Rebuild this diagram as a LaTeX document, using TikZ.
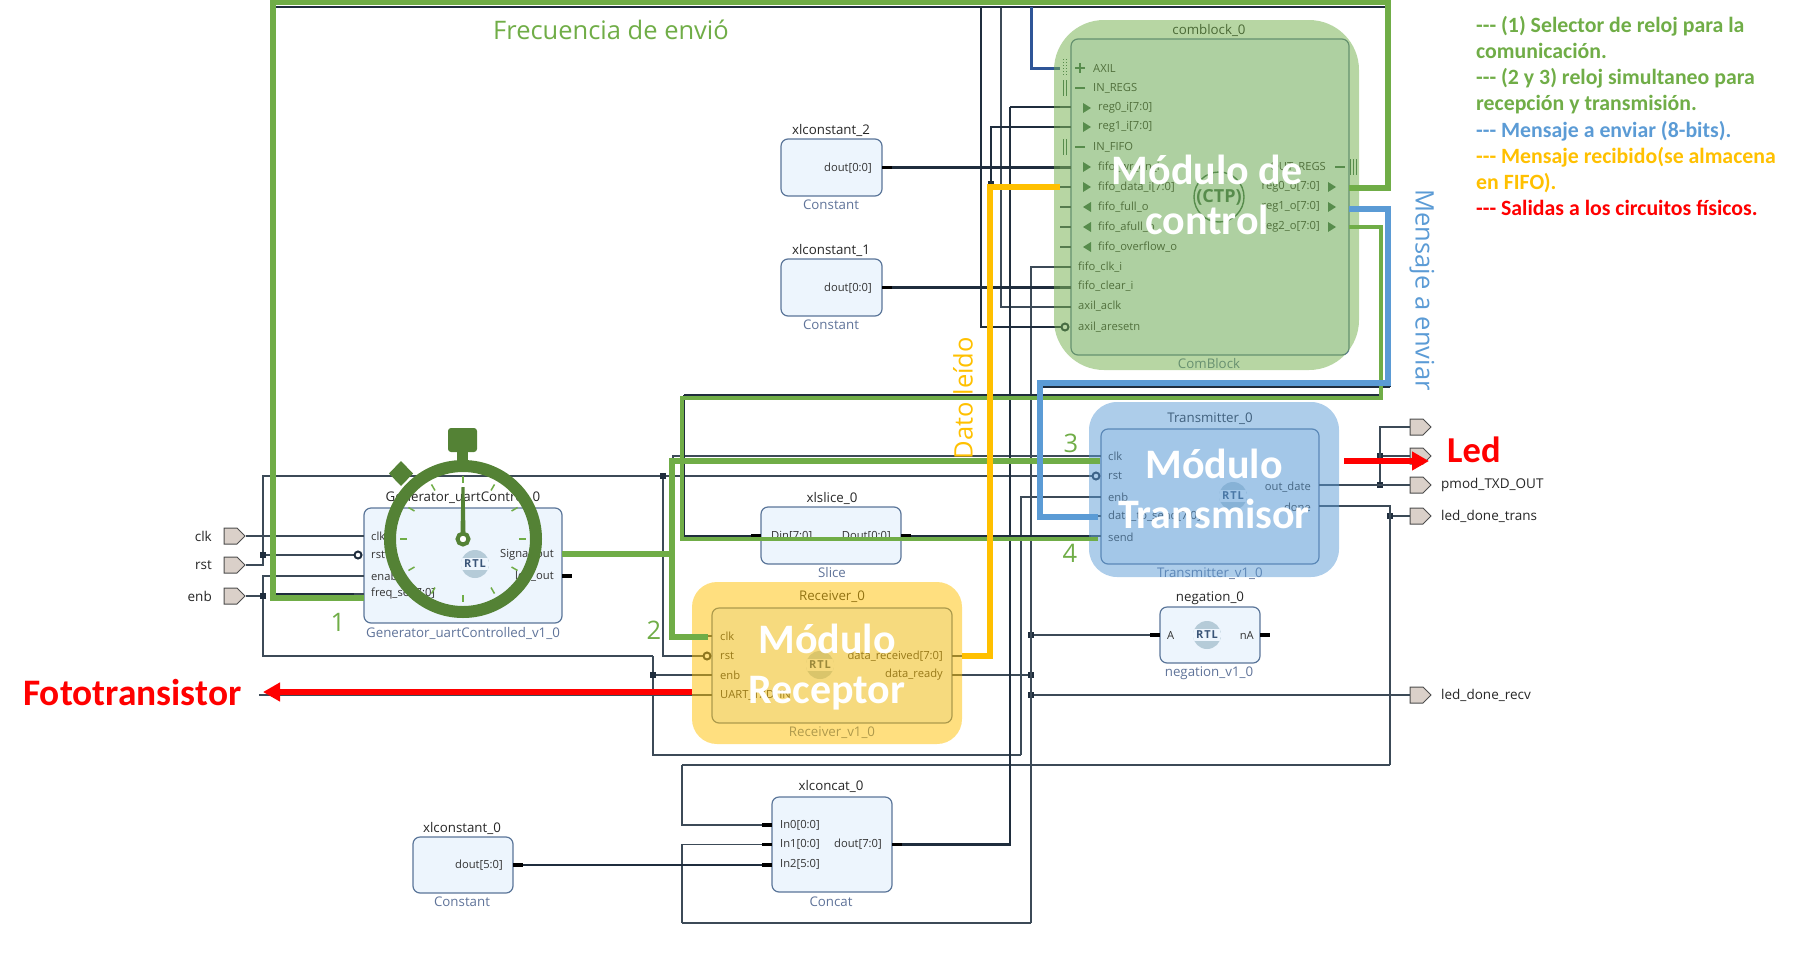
\documentclass[tikz,border=0pt]{standalone}
\usepackage{fontspec}
\usepackage{xcolor}
\setmainfont{Open Sans}
\newfontfamily\calfont{Carlito}
\usetikzlibrary{arrows.meta,shapes.symbols,calc}
\definecolor{ipfill}{HTML}{EDF5FD}
\definecolor{ipline}{HTML}{5A7599}
\definecolor{ipsub}{HTML}{5F7399}
\definecolor{wirec}{HTML}{3C4A57}
\definecolor{busc}{HTML}{1F2D3D}
\definecolor{portf}{HTML}{DAD0C9}
\definecolor{ogreen}{HTML}{70AD47}
\definecolor{oblue}{HTML}{5B9BD5}
\definecolor{oyellow}{HTML}{FFC000}
\definecolor{watchc}{HTML}{548235}
\definecolor{navyc}{HTML}{2F5597}
\definecolor{rtlc}{HTML}{B5CBD8}
\definecolor{rtlt}{HTML}{3A5578}
\definecolor{comsym}{HTML}{3F6B52}
\tikzset{
	block/.style={draw=ipline,line width=1.2pt,fill=ipfill,rounded corners=7pt,inner sep=0pt},
	hilite/.style={fill opacity=0.5,inner sep=0pt},
	blocktitle/.style={font=\fontsize{13.3}{15}\selectfont,text=black!85,inner sep=0pt,yshift=-1pt},
	blocksub/.style={font=\fontsize{13.3}{15}\selectfont,text=ipsub,inner sep=0pt},
	lport/.style={font=\fontsize{11.2}{13}\selectfont,text=black!80,anchor=west,inner sep=0pt},
	rport/.style={font=\fontsize{11.2}{13}\selectfont,text=black!80,anchor=east,inner sep=0pt},
	extlabel/.style={font=\fontsize{13.5}{15}\selectfont,text=black!85,inner sep=0pt},
	port/.style={signal,signal to=east,draw=black!70,line width=1pt,fill=portf,minimum width=21pt,minimum height=16pt,inner sep=0pt},
	jdot/.style={fill=busc,minimum size=6pt,inner sep=0pt},
	bubble/.style={circle,draw=busc,line width=2pt,fill=white,minimum size=7pt,inner sep=0pt},
	wire/.style={draw=wirec,line width=1.3pt},
	bus/.style={draw=busc,line width=2.2pt},
	pinstub/.style={draw=black,line width=3.5pt},
	thinstub/.style={draw=wirec,line width=2.2pt},
	gline/.style={draw=ogreen,line width=5.5pt},
	rtl/.style={circle,minimum size=28pt,inner sep=0pt,fill=rtlc,text=rtlt,font=\fontsize{11}{13}\bfseries\selectfont,
		path picture={\fill[ipfill] ([yshift=-6pt]path picture bounding box.west) rectangle ([yshift=6pt]path picture bounding box.east);}},
	bigtext/.style={font=\calfont\bfseries\fontsize{42}{50.5}\selectfont,text=white,align=center,inner sep=0pt},
	notes/.style={font=\fontsize{25.5}{28}\selectfont,inner sep=0pt},
}
\begin{document}
\begin{tikzpicture}[x=1pt,y=-1pt]
		\useasboundingbox (0,0) rectangle (1803,977);
		% IP blocks
		\node[block,minimum width=198pt,minimum height=115pt] (gen) at (463,565.5) {};
		\node[block,minimum width=140pt,minimum height=57pt] (slice) at (831,535.5) {};
		\node[block,minimum width=240pt,minimum height=115pt] (recv) at (832,665.5) {};
		\node[block,minimum width=218pt,minimum height=135pt] (trans) at (1210,496.5) {};
		\node[block,minimum width=278pt,minimum height=316pt] (comb) at (1210,197) {};
		\node[block,minimum width=100pt,minimum height=56pt] (neg) at (1210,635) {};
		\node[block,minimum width=120pt,minimum height=95pt] (concat) at (832,844.5) {};
		\node[block,minimum width=101pt,minimum height=57pt] (kdos) at (831.5,167.5) {};
		\node[block,minimum width=101pt,minimum height=57pt] (kuno) at (831.5,287.5) {};
		\node[block,minimum width=100pt,minimum height=56pt] (kcero) at (463,865) {};
		%
		\node[blocktitle] (tgen) at (463,496) {Generator\_uartControl\_0};
		\node[blocksub] (sgen) at (463,633) {Generator\_uartControlled\_v1\_0};
		\node[blocktitle] (tslice) at (832,497) {xlslice\_0};
		\node[blocksub] (sslice) at (832,573) {Slice};
		\node[blocktitle] (trecv) at (832,596) {Receiver\_0};
		\node[blocksub] (srecv) at (832,733) {Receiver\_v1\_0};
		\node[blocktitle] (ttrans) at (1210,418) {Transmitter\_0};
		\node[blocksub] (strans) at (1210,574) {Transmitter\_v1\_0};
		\node[blocktitle] (tcomb) at (1209,29) {comblock\_0};
		\node[blocksub] (scomb) at (1209,364) {ComBlock};
		\node[blocktitle] (tneg) at (1210,597) {negation\_0};
		\node[blocksub] (sneg) at (1209,673) {negation\_v1\_0};
		\node[blocktitle] (tconcat) at (831,785) {xlconcat\_0};
		\node[blocksub] (sconcat) at (831,902) {Concat};
		\node[blocktitle] (tkdos) at (831,129) {xlconstant\_2};
		\node[blocksub] (skdos) at (831,205) {Constant};
		\node[blocktitle] (tkuno) at (831,249) {xlconstant\_1};
		\node[blocksub] (skuno) at (831,325) {Constant};
		\node[blocktitle] (tkcero) at (462,827) {xlconstant\_0};
		\node[blocksub] (skcero) at (462,902) {Constant};
		%
		\node[rtl] (rtlgen) at (475,564) {R\kern1pt T\kern1pt L};
		\node[rtl] (rtlrecv) at (820,665) {R\kern1pt T\kern1pt L};
		\node[rtl] (rtltrans) at (1233,496) {R\kern1pt T\kern1pt L};
		\node[rtl] (rtlneg) at (1207,635) {R\kern1pt T\kern1pt L};
		% port names
		\node[lport] (lgclk) at (371,536) {clk};
		\node[lport] (lgrst) at (371,555) {rst};
		\node[lport] (lgenb) at (371,576) {enable};
		\node[lport] (lgfreq) at (371,594) {freq\_sel[7:0]};
		\node[rport] (lgsig) at (554,555) {Signal\_out};
		\node[rport] (lgled) at (554,576) {led\_out};
		\node[lport] (lsin) at (771,536) {Din[7:0]};
		\node[rport] (lsout) at (891,536) {Dout[0:0]};
		\node[lport] (lrclk) at (720,636) {clk};
		\node[lport] (lrrst) at (720,656) {rst};
		\node[lport] (lrenb) at (720,675) {enb};
		\node[lport] (lruart) at (720,695) {UART\_TXD\_IN};
		\node[rport] (lrdata) at (943,656) {data\_received[7:0]};
		\node[rport] (lrrdy) at (943,675) {data\_ready};
		\node[lport] (ltclk) at (1108,456) {clk};
		\node[lport] (ltrst) at (1108,476) {rst};
		\node[lport] (ltenb) at (1108,497) {enb};
		\node[lport] (ltdat) at (1108,516) {data\_to\_send[7:0]};
		\node[lport] (ltsend) at (1108,537) {send};
		\node[rport] (ltout) at (1311,487) {out\_date};
		\node[rport] (ltdone) at (1311,507) {done};
		\node[lport] (lnega) at (1167,635) {A};
		\node[rport] (lnegn) at (1254,635) {nA};
		\node[lport] (lin0) at (780,825) {In0[0:0]};
		\node[lport] (lin1) at (780,844) {In1[0:0]};
		\node[lport] (lin2) at (780,864) {In2[5:0]};
		\node[rport] (lcout) at (882,844) {dout[7:0]};
		\node[rport] (lkdos) at (872,168) {dout[0:0]};
		\node[rport] (lkuno) at (872,288) {dout[0:0]};
		\node[rport] (lkcero) at (503,865) {dout[5:0]};
		%
		\node[lport] (laxil) at (1093,68) {AXIL};
		\node[lport] (linr) at (1093,88) {IN\_REGS};
		\node[lport] (lreg0) at (1098,108) {reg0\_i[7:0]};
		\node[lport] (lreg1) at (1098,127) {reg1\_i[7:0]};
		\node[lport] (linf) at (1093,147) {IN\_FIFO};
		\node[lport] (lfwe) at (1098,167) {fifo\_wr\_en\_i};
		\node[lport] (lfdat) at (1098,187) {fifo\_data\_i[7:0]};
		\node[lport] (lffull) at (1098,207) {fifo\_full\_o};
		\node[lport] (lfaf) at (1098,227) {fifo\_afull\_o};
		\node[lport] (lfov) at (1098,247) {fifo\_overflow\_o};
		\node[lport] (lfclk) at (1078,267) {fifo\_clk\_i};
		\node[lport] (lfclr) at (1078,286) {fifo\_clear\_i};
		\node[lport] (laclk) at (1078,306) {axil\_aclk};
		\node[lport] (laxrst) at (1078,327) {axil\_aresetn};
		\node[rport] (loutr) at (1326,167) {OUT\_REGS};
		\node[rport] (lro0) at (1320,187) {reg0\_o[7:0]};
		\node[rport] (lro1) at (1320,207) {reg1\_o[7:0]};
		\node[rport] (lro2) at (1320,227) {reg2\_o[7:0]};
		\node[font=\fontsize{18}{20}\bfseries\selectfont,text=comsym,inner sep=0pt] (ctp) at (1219,197) {(CTP)};
		\draw[comsym,line width=1.4pt] (1219,197) circle (25);
		% comblock symbols
		\draw[comsym,line width=2pt] (1075,68) -- (1085,68) (1080,63) -- (1080,73);
		\draw[comsym,line width=1pt,dotted] (1063,59) -- (1063,76) (1066,59) -- (1066,76);
		\foreach \y in {88,147} {
			\draw[comsym,line width=2pt] (1075,\y) -- (1085,\y);
			\draw[comsym,line width=0.8pt] (1063,\y-8) -- (1063,\y+8) (1066,\y-8) -- (1066,\y+8);
		}
		\foreach \y in {108,127,167,187}
			\fill[comsym] (1083,\y-5) -- (1091,\y) -- (1083,\y+5) -- cycle;
		\foreach \y in {207,227,247}
			\fill[comsym] (1091,\y-5) -- (1083,\y) -- (1091,\y+5) -- cycle;
		\foreach \y in {187,207,227}
			\fill[comsym] (1328,\y-5) -- (1336,\y) -- (1328,\y+5) -- cycle;
		\draw[comsym,line width=2pt] (1335,167) -- (1345,167);
		\draw[comsym,line width=0.8pt] (1350,159) -- (1350,175) (1353,159) -- (1353,175) (1356,159) -- (1356,175);
		% pins of the blocks
		\coordinate (gclk) at (364,536);
		\coordinate (grst) at (358,555);
		\coordinate (genab) at (364,576);
		\coordinate (gfreq) at (364,594);
		\coordinate (gsig) at (562,555);
		\coordinate (rclk) at (712,636);
		\coordinate (rrst) at (707,656);
		\coordinate (renb) at (712,675);
		\coordinate (ruart) at (712,695);
		\coordinate (rdata) at (952,656);
		\coordinate (rrdy) at (952,675);
		\coordinate (tclk) at (1101,456);
		\coordinate (trst) at (1096,476);
		\coordinate (tenb) at (1101,497);
		\coordinate (tdat) at (1101,516);
		\coordinate (tsend) at (1101,536);
		\coordinate (tout) at (1319,485);
		\coordinate (tdone) at (1319,506);
		\coordinate (sin) at (761,536);
		\coordinate (sout) at (901,536);
		\coordinate (nega) at (1160,635);
		\coordinate (cin0) at (772,825);
		\coordinate (cin1) at (772,844.5);
		\coordinate (cin2) at (772,865);
		\coordinate (cout) at (892,844.5);
		\coordinate (kdout) at (882,167.5);
		\coordinate (kuout) at (882,287.5);
		\coordinate (kcout) at (513,865);
		\coordinate (caxil) at (1060,68);
		\coordinate (creg0) at (1071,107);
		\coordinate (creg1) at (1071,127);
		\coordinate (cwe) at (1071,167.5);
		\coordinate (cdat) at (1071,187);
		\coordinate (cclk) at (1071,267);
		\coordinate (cclr) at (1071,287.5);
		\coordinate (caclk) at (1071,307);
		\coordinate (carst) at (1065,327);
		\coordinate (co0) at (1349,187);
		\coordinate (co1) at (1349,208);
		\coordinate (co2) at (1349,227);
		% external ports
		\node[port] (clk) at (230.5,536) {};
		\node[port] (rst) at (230.5,565) {};
		\node[port] (enb) at (230.5,596) {};
		\node[port] (ledt) at (1416.5,427) {};
		\node[port] (ledb) at (1416.5,456) {};
		\node[port] (pmod) at (1416.5,485) {};
		\node[port] (ldt) at (1416.5,516) {};
		\node[port] (ldr) at (1416.5,695) {};
		\node[extlabel,anchor=east] (lclk) at (212,536) {clk};
		\node[extlabel,anchor=east] (lrst) at (212,565) {rst};
		\node[extlabel,anchor=east] (lenb) at (212,596) {enb};
		\node[extlabel,anchor=west] (lpmod) at (1441,485) {pmod\_TXD\_OUT};
		\node[extlabel,anchor=west] (lldt) at (1441,516) {led\_done\_trans};
		\node[extlabel,anchor=west] (lldr) at (1441,695) {led\_done\_recv};
		% junctions and corners
		\node[jdot] (jrsta) at (263,555) {};
		\node[jdot] (jrstb) at (663,476) {};
		\node[jdot] (jenba) at (263,596) {};
		\node[jdot] (jenbb) at (653,675) {};
		\node[jdot] (jrdy) at (1031,675) {};
		\node[jdot] (jneg) at (1031,635) {};
		\node[jdot] (jrecv) at (1031,695) {};
		\node[jdot] (jouta) at (1380,485) {};
		\node[jdot] (joutb) at (1380,456) {};
		\node[jdot] (jdone) at (1390,516) {};
		\node[jdot] (jdata) at (991,184) {};
		\coordinate (ena) at (653,656);
		\coordinate (enc) at (1021,755);
		\coordinate (sigc) at (673,555);
		\coordinate (uartend) at (259,695);
		\coordinate (topl) at (273,7);
		\coordinate (topr) at (1389,7);
		\coordinate (rsttop) at (981,7);
		\coordinate (acktop) at (1001,7);
		\coordinate (axtop) at (1031,7);
		\coordinate (dblue) at (1040,387);
		\coordinate (dbluer) at (1390,387);
		\coordinate (dlow) at (684,395);
		\coordinate (dlowr) at (1381,395);
		\coordinate (coretb) at (1031,923);
		\coordinate (coreta) at (682,923);
		\coordinate (dnup) at (682,765);
		\coordinate (dnri) at (1390,765);
		\coordinate (regup) at (1010,107);
		\coordinate (datc) at (991,187);
		%
		\path[wire]
		(clk.east) -- (gclk)
		(rst.east) -| (jrsta)
		(jrsta) -- (grst)
		(jrsta) |- (jrstb)
		(jrstb) -- (trst)
		(jrstb) |- (rrst)
		(enb.east) -- (jenba)
		(jenba) |- (genab)
		(jenba) |- (ena)
		(ena) -- (jenbb)
		(jenbb) -- (renb)
		(jenbb) |- (enc)
		(enc) |- (tenb)
		(ruart) -- (uartend)
		(rrdy) -- (jrdy)
		(cclk) -| (coretb)
		(coretb) -- (coreta)
		(coreta) |- (cin1)
		(jneg) -- (nega)
		(jrecv) -- (ldr.west)
		(cin0) -| (dnup)
		(dnup) -- (dnri)
		(dnri) |- (tdone)
		(jdone) -- (ldt.west)
		(tout) -- (pmod.west)
		(jouta) |- (ledt.west)
		(joutb) -- (ledb.west)
		(caclk) -| (acktop)
		(sigc) |- (tclk)
		(sigc) |- (rclk);
		\path[bus]
		(kdout) -- (cwe)
		(kuout) -- (cclr)
		(kcout) -- (cin2)
		(cout) -| (regup)
		(regup) -- (creg0)
		(rdata) -| (datc)
		(datc) -- (cdat)
		(creg1) -| (jdata)
		(carst) -| (rsttop)
		(gsig) -- (sigc)
		(gfreq) -| (topl)
		(topl) -- (topr)
		(topr) |- (co0)
		(co1) -| (dbluer)
		(dbluer) -- (dblue)
		(dblue) |- (tdat)
		(co2) -| (dlowr)
		(dlowr) -- (dlow)
		(dlow) |- (sin)
		(sout) -- (tsend);
		\path[draw=navyc,line width=3pt] (axtop) |- (caxil);
		% stubs
		\path[pinstub]
		(kdout) -- ++(10,0)
		(kuout) -- ++(10,0)
		(kcout) -- ++(10,0)
		(cout) -- ++(10,0)
		(cin0) -- ++(-10,0)
		(cin1) -- ++(-10,0)
		(cin2) -- ++(-10,0)
		(sin) -- ++(-10,0)
		(sout) -- ++(10,0)
		(nega) -- ++(-10,0);
		\draw[pinstub] (1260,635) -- (1270,635);
		\draw[pinstub] (562,555) -- (570,555);
		\draw[pinstub] (562,576) -- (572,576);
		\foreach \y in {536,576,594}
			\draw[thinstub] (354,\y) -- (364,\y);
		\foreach \y in {636,675,695}
			\draw[thinstub] (702,\y) -- (712,\y);
		\draw[thinstub] (952,656) -- (962,656) (952,675) -- (962,675);
		\foreach \y in {456,497,516,536}
			\draw[thinstub] (1091,\y) -- (1101,\y);
		\draw[thinstub] (1319,485) -- (1329,485) (1319,506) -- (1329,506);
		\foreach \y in {107,127,167.5,187,207,227,247,267,287.5,307}
			\draw[thinstub] (1060,\y) -- (1071,\y);
		\draw[thinstub] (1349,187) -- (1354,187) (1349,208) -- (1354,208) (1349,227) -- (1354,227);
		\node[bubble] (bgrst) at (grst) {};
		\node[bubble] (brrst) at (rrst) {};
		\node[bubble] (btrst) at (trst) {};
		\node[bubble] (bcrst) at (carst) {};
		% highlighted modules
		\node[hilite,fill=oyellow,minimum width=270pt,minimum height=162pt,rounded corners=25pt] (hrecv) at (827,663) {};
		\node[hilite,fill=oblue,minimum width=250pt,minimum height=175pt,rounded corners=28pt] (htrans) at (1214,489.5) {};
		\node[hilite,fill=ogreen,minimum width=305pt,minimum height=350pt,rounded corners=50pt] (hcomb) at (1206.5,195) {};
		% coloured signals
		\coordinate (gsa) at (562,554);
		\coordinate (gsb) at (672,554);
		\coordinate (gsc) at (672,461);
		\coordinate (gsd) at (1100,461);
		\coordinate (gse) at (708,637);
		\coordinate (fra) at (364,598);
		\coordinate (frb) at (273,2.5);
		\coordinate (frc) at (1388,188);
		\coordinate (frd) at (1349,188);
		\coordinate (bla) at (1349,209);
		\coordinate (blb) at (1388,383);
		\coordinate (blc) at (1040,517);
		\coordinate (bld) at (1098,517);
		\coordinate (gra) at (1349,227);
		\coordinate (grb) at (1381,398);
		\coordinate (grc) at (682,398);
		\coordinate (grd) at (1098,539);
		\coordinate (yea) at (962,656);
		\coordinate (yeb) at (990,187);
		\coordinate (yec) at (1060,187);
		\path[gline]
		(gsa) -- (gsb)
		(gsd) -- (gsc) |- (gse)
		(fra) -| (frb) -| (frc) -- (frd);
		\path[draw=ogreen,line width=3.5pt]
		(gra) -| (grb) -- (grc) |- (grd);
		\path[draw=oblue,line width=5.5pt]
		(bla) -| (blb) -| (blc) -- (bld);
		\path[draw=oyellow,line width=5.5pt]
		(yea) -| (yeb) -- (yec);
		% red arrows
		\coordinate (ra) at (692,692);
		\coordinate (rb) at (263,692);
		\coordinate (rc) at (1344,461);
		\coordinate (rd) at (1429,461);
		\path[draw=red,line width=6pt,-{Triangle[length=17pt,width=18pt]}] (ra) -- (rb);
		\path[draw=red,line width=6pt,-{Triangle[length=17pt,width=18pt]}] (rc) -- (rd);
		% texts on top
		\node[bigtext] (tmctrl) at (1207,195) {Módulo de\\control};
		\node[bigtext] (tmtrans) at (1214,489) {Módulo\\Transmisor};
		\node[bigtext] (tmrecv) at (827,667) {Módulo\\Receptor};
		\node[notes,text=ogreen,anchor=west] (frec) at (493,30) {Frecuencia de envió};
		\node[notes,text=oblue,rotate=-90] (msg) at (1422,290) {Mensaje a enviar};
		\node[notes,text=oyellow,rotate=90] (dato) at (963,398) {Dato leído};
		\node[notes,text=ogreen] (nuno) at (338,622) {1};
		\node[notes,text=ogreen] (ndos) at (654,630) {2};
		\node[notes,text=ogreen] (ntres) at (1071,443) {3};
		\node[notes,text=ogreen] (ncuatro) at (1070,553) {4};
		\node[font=\calfont\bfseries\fontsize{37.4}{40}\selectfont,text=red,anchor=west,inner sep=0pt] (foto) at (23,693) {Fototransistor};
		\node[font=\calfont\bfseries\fontsize{36.5}{40}\selectfont,text=red,anchor=west,inner sep=0pt] (led) at (1447,450) {Led};
		\node[font=\calfont\bfseries\fontsize{21.8}{26.2}\selectfont,anchor=north west,align=left,inner sep=0pt] (legend) at (1476,16) {%
			\textcolor{ogreen}{--{}- (1) Selector de reloj para la}\\
			\textcolor{ogreen}{comunicación.}\\
			\textcolor{ogreen}{--{}- (2 y 3) reloj simultaneo para}\\
			\textcolor{ogreen}{recepción y transmisión.}\\
			\textcolor{oblue}{--{}- Mensaje a enviar (8-bits).}\\
			\textcolor{oyellow}{--{}- Mensaje recibido(se almacena}\\
			\textcolor{oyellow}{en FIFO).}\\
			\textcolor{red}{--{}- Salidas a los circuitos físicos.}};
		% stopwatch
		\fill[watchc,rounded corners=3pt] (448,428) rectangle (477,452);
		\fill[watchc] (457,452) rectangle (468,463);
		\fill[watchc] (401,461) -- (413,473.5) -- (401,486) -- (389,473.5) -- cycle;
		\foreach \a in {0,30,...,330}
			\draw[ogreen,line width=1.5pt] ($(463,539)+(\a:56)$) -- ($(463,539)+(\a:63)$);
		\draw[watchc,line width=12pt] (463,539) circle (73);
		\fill[watchc] (460.5,532) -- (461.5,487) -- (464.5,487) -- (465.5,532) -- cycle;
		\draw[watchc,line width=4pt,fill=white] (463,539) circle (5.5);
	\end{tikzpicture}
\end{document}
